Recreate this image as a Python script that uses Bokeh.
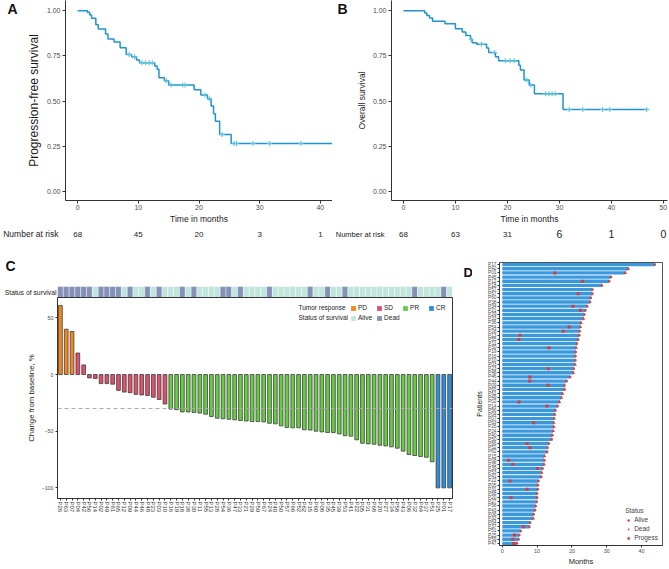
import numpy as np
from bokeh.plotting import figure
from bokeh.models import (Range1d, FactorRange, ColumnDataSource, Label, LinearAxis,
                          Legend, LegendItem, FixedTicker, NumeralTickFormatter, Span)
from bokeh.core.properties import value
from bokeh.layouts import row, column
from bokeh.embed import file_html
from bokeh.resources import INLINE

FONT = "Liberation Sans"

# ---------------- Panel A: progression-free survival ----------------
pfs_times = [1.6, 2.0, 2.3, 3.0, 3.4, 4.6, 5.0, 6.0, 7.0, 8.0, 8.9, 9.7, 10.2, 12.7,
             13.1, 13.4, 14.3, 15.0, 19.2, 20.3, 21.4, 22.0, 22.4, 22.7, 23.4, 25.3]
pfs_surv = [0.991, 0.976, 0.958, 0.922, 0.898, 0.871, 0.844, 0.827, 0.795, 0.758, 0.745,
            0.727, 0.713, 0.695, 0.676, 0.629, 0.613, 0.589, 0.564, 0.535, 0.513, 0.473,
            0.431, 0.389, 0.316, 0.267]
pfs_last_followup = 42.0
pfs_censored = [8.5, 9.4, 10.6, 11.2, 11.8, 12.3, 14.6, 15.4, 17.3, 17.7, 21.0, 21.7,
                23.8, 25.8, 26.2, 28.9, 31.6, 36.8]
pfs_risk_times = [0, 10, 20, 30, 40]
pfs_risk_counts = [68, 45, 20, 3, 1]

# ---------------- Panel B: overall survival ----------------
os_times = [4.1, 4.5, 5.0, 5.6, 8.0, 10.0, 11.3, 12.0, 12.9, 13.2, 14.1, 16.0, 16.4,
            17.7, 18.3, 22.2, 22.5, 23.2, 24.2, 25.2, 30.7]
os_surv = [0.987, 0.973, 0.960, 0.942, 0.927, 0.900, 0.882, 0.863, 0.842, 0.823, 0.814,
           0.794, 0.769, 0.745, 0.723, 0.699, 0.672, 0.617, 0.590, 0.541, 0.454]
os_last_followup = 46.8
os_censored = [13.0, 15.0, 17.5, 19.6, 20.5, 21.3, 23.7, 24.5, 27.3, 28.0, 28.6, 29.2,
               31.9, 34.5, 38.3, 39.7, 46.8]
os_risk_times = [0, 10, 20, 30, 40, 50]
os_risk_counts = [68, 63, 31, 6, 1, 0]

# ---------------- Panel C: waterfall ----------------
c_patients = ["P26", "P63", "P07", "P04", "P42", "P56", "P14", "P02", "P49", "P61", "P65",
              "P12", "P09", "P44", "P46", "P48", "P23", "P03", "P10", "P16", "P19", "P18",
              "P38", "P30", "P11", "P55", "P13", "P28", "P54", "P36", "P47", "P33", "P21",
              "P29", "P59", "P67", "P24", "P40", "P50", "P57", "P66", "P52", "P62", "P15",
              "P60", "P08", "P35", "P45", "P39", "P53", "P41", "P22", "P05", "P31", "P68",
              "P20", "P27", "P34", "P58", "P43", "P06", "P32", "P64", "P37", "P51", "P25",
              "P01", "P17"]
c_change = [61, 40, 38,
            19, 8.5, -3, -3.5, -8, -8, -8.5, -14, -15.5, -16, -17.5, -18, -18.5, -20, -22, -26,
            -30.5, -31, -33, -33, -33.5, -34, -35, -37, -38.5, -39, -39.5, -40, -40.6, -41,
            -41.5, -41.5, -41.8, -43, -43.5, -45.3, -46.8, -47, -47, -48.8, -49, -50, -50.6,
            -51.2, -51.2, -52.4, -54, -54.4, -57.6, -60.6, -61.2, -61.5, -62.4, -63, -63.8,
            -65, -67.6, -70.6, -71.5, -72.4, -73, -77,
            -100, -100, -100]
c_response = ["PD"] * 3 + ["SD"] * 16 + ["PR"] * 46 + ["CR"] * 3
c_status = ["Dead", "Dead", "Dead", "Dead", "Dead", "Dead", "Alive", "Dead", "Dead", "Dead",
            "Dead", "Alive", "Dead", "Alive", "Alive", "Dead", "Alive", "Dead", "Alive", "Alive",
            "Alive", "Dead", "Alive", "Dead", "Alive", "Alive", "Alive", "Alive", "Dead", "Dead",
            "Alive", "Dead", "Alive", "Alive", "Alive", "Alive", "Dead", "Alive", "Alive", "Alive",
            "Alive", "Alive", "Alive", "Dead", "Alive", "Alive", "Dead", "Alive", "Alive", "Dead",
            "Alive", "Alive", "Alive", "Alive", "Alive", "Alive", "Alive", "Alive", "Alive", "Alive",
            "Alive", "Dead", "Alive", "Alive", "Alive", "Alive", "Dead", "Alive"]
response_levels = ["PD", "SD", "PR", "CR"]
response_colors = ["#f7861c", "#e0506c", "#66cc44", "#2b8fdc"]
status_levels = ["Alive", "Dead"]
status_colors = ["#bfe5dc", "#8591b8"]
response_threshold = -30

# ---------------- Panel D: swimmer plot ----------------
d_patients = ["P17", "P42", "P01", "P45", "P12", "P18", "P57", "P67", "P60", "P38", "P34",
              "P21", "P29", "P33", "P36", "P54", "P28", "P13", "P55", "P11", "P30", "P19",
              "P16", "P10", "P03", "P23", "P48", "P46", "P44", "P09", "P65", "P61", "P49",
              "P02", "P14", "P56", "P04", "P07", "P63", "P26", "P24", "P40", "P50", "P66",
              "P52", "P62", "P15", "P08", "P35", "P39", "P53", "P41", "P22", "P05", "P31",
              "P68", "P20", "P27", "P58", "P43", "P06", "P32", "P64", "P37", "P51", "P25",
              "P59", "P47"]
d_months = [43.8, 36.2, 35.3, 31.2, 30.7, 28.6, 25.9, 25.9, 25.4, 25.2, 24.4, 23.9, 23.6,
            23.3, 22.6, 22.4, 22.2, 22.1, 21.8, 21.4, 21.2, 21.1, 21.0, 21.0, 20.9, 20.5,
            20.4, 19.5, 18.5, 17.9, 17.9, 17.3, 17.0, 16.4, 15.9, 15.3, 15.1, 14.9, 14.8,
            14.8, 14.6, 14.4, 14.2, 13.4, 13.0, 12.9, 12.1, 12.1, 12.0, 11.6, 11.3, 11.2,
            10.4, 10.2, 10.2, 10.0, 10.0, 9.9, 9.6, 9.4, 9.0, 8.9, 8.0, 7.8, 5.3, 4.9, 4.7, 4.2]
d_progress = [None, None, 15.1, None, 23.0, None, None, 21.8, None, None, 20.3, 22.4, None,
              None, None, 19.2, 17.5, 5.1, 4.7, None, 13.4, None, None, None, None, 13.2,
              None, 7.9, 7.9, 13.2, None, None, None, 4.8, 12.8, None, None, None, 9.0,
              None, None, None, None, 7.1, 7.9, None, None, 1.8, 3.0, 10.1, None, None,
              2.2, None, 7.1, None, 2.5, None, None, None, None, None, None, 6.1, None,
              3.5, 3.0, 3.3]

# ---------------- styling helpers ----------------
KM_LINE = "#1e95cf"
KM_CENS = "#5ec4de"
MARK_RED = "#e0403c"
Y0, Y1 = -0.048, 1.056


def style_axes(p, tick_fs, label_fs, tick_out=3, label_standoff=4):
    p.xgrid.visible = False
    p.ygrid.visible = False
    for ax in p.axis:
        ax.axis_line_color = "#333333"
        ax.major_tick_line_color = "#333333"
        ax.minor_tick_line_color = None
        ax.major_tick_out = tick_out
        ax.major_tick_in = 0
        ax.major_label_standoff = 2
        ax.axis_label_standoff = label_standoff
        ax.major_label_text_font = FONT
        ax.major_label_text_font_size = tick_fs
        ax.major_label_text_color = "#4d4d4d"
        ax.axis_label_text_font = FONT
        ax.axis_label_text_font_size = label_fs
        ax.axis_label_text_font_style = "normal"
        ax.axis_label_text_color = "#1a1a1a"


def label_axis(ax, size, bold=False, color="#1a1a1a", standoff=1):
    ax.axis_line_color = None
    ax.major_tick_line_color = None
    ax.minor_tick_line_color = None
    ax.major_label_standoff = standoff
    ax.major_label_text_font = FONT
    ax.major_label_text_font_size = size
    ax.major_label_text_font_style = "bold" if bold else "normal"
    ax.major_label_text_color = color


def tag_axis(p, txt, level, rng, size="14px"):
    # panel letter drawn as the only tick label of an extra, invisible left axis
    p.extra_y_ranges = {"tag": Range1d(*rng)}
    ax = LinearAxis(y_range_name="tag", ticker=FixedTicker(ticks=[level]),
                    major_label_overrides={level: txt})
    label_axis(ax, size, bold=True, color="#111111", standoff=0)
    p.add_layout(ax, "left")


def blank(p):
    p.outline_line_color = None
    p.xgrid.visible = False
    p.ygrid.visible = False


def km_panel(width, xr, ml, mr, times, surv, end, cens, ylabel, ylabel_fs, xticks, tag):
    p = figure(width=width, height=226, x_range=Range1d(*xr), y_range=Range1d(Y0, Y1),
               output_backend="svg", toolbar_location=None,
               min_border_left=ml, min_border_right=mr, min_border_top=0, min_border_bottom=23)
    p.outline_line_color = None
    xs = [0.0] + list(times) + [end]
    ys = [1.0] + list(surv) + [surv[-1]]
    p.step(xs, ys, mode="after", line_color=KM_LINE, line_width=1.5)
    idx = np.searchsorted(np.array(times), cens, side="right")
    cy = [1.0 if i == 0 else surv[i - 1] for i in idx]
    p.scatter(cens, cy, marker="cross", size=5, line_color=KM_CENS, line_width=1.1)
    p.yaxis.ticker = FixedTicker(ticks=[0, 0.25, 0.5, 0.75, 1.0])
    p.yaxis.formatter = NumeralTickFormatter(format="0.00")
    p.xaxis.ticker = FixedTicker(ticks=xticks)
    p.yaxis.axis_label = ylabel
    p.xaxis.axis_label = "Time in months"
    style_axes(p, "7px", ylabel_fs, tick_out=3, label_standoff=3)
    p.xaxis.major_label_standoff = 1
    p.xaxis.axis_label_standoff = 1
    p.xaxis.axis_label_text_font_size = "8.5px"
    tag_axis(p, tag, 956, (0, 1000))
    return p


def risk_panel(main, width, ml, mr, big_from, risk_t, risk_n, label_fs):
    p = figure(width=width, height=15, x_range=main.x_range,
               y_range=FactorRange("Number at risk"), output_backend="svg",
               toolbar_location=None, min_border_left=ml, min_border_right=mr,
               min_border_top=0, min_border_bottom=0, x_axis_location=None)
    blank(p)
    label_axis(p.yaxis[0], label_fs, standoff=1)
    row_y = ["Number at risk"] * len(risk_t)
    labels = [str(v) for v in risk_n]
    p.text(x=risk_t[:big_from], y=row_y[:big_from], text=labels[:big_from],
           text_font=value(FONT), text_font_size="8px", text_align="center",
           text_baseline="middle", text_color="#1a1a1a")
    if big_from < len(risk_t):
        p.text(x=risk_t[big_from:], y=row_y[big_from:], text=labels[big_from:],
               text_font=value(FONT), text_font_size="10.5px", text_align="center",
               text_baseline="middle", text_color="#1a1a1a")
    return p


# top row geometry (page pixels): A frame 61..332, B frame 382..667
pA = km_panel(332, (-2, 42), 61, 0, pfs_times, pfs_surv, pfs_last_followup, pfs_censored,
              "Progression-free survival", "12px", [0, 10, 20, 30, 40], "A")
pB = km_panel(336, (-2.3, 50.8), 50, 1, os_times, os_surv, os_last_followup, os_censored,
              "Overall survival", "8.5px", [0, 10, 20, 30, 40, 50], "B")
pAr = risk_panel(pA, 332, 61, 0, 5, pfs_risk_times, pfs_risk_counts, "8.5px")
pBr = risk_panel(pB, 336, 50, 1, 3, os_risk_times, os_risk_counts, "7.5px")

# ---------------- Panel C ----------------
c_xr = FactorRange(*c_patients, range_padding=0)
s_color_map = dict(zip(status_levels, status_colors))

# text canvas left of the strip: page x 0..57, y 241..297, units are pixels (y downward)
pCt = figure(width=57, height=56, x_range=Range1d(0, 57), y_range=Range1d(56, 0),
             output_backend="svg", toolbar_location=None, min_border_left=0,
             min_border_right=0, min_border_top=0, min_border_bottom=0,
             x_axis_location=None, y_axis_location=None)
blank(pCt)
pCt.text(x=[5], y=[16], text=["C"], text_font=value(FONT), text_font_size="14px",
         text_font_style="bold", text_align="left", text_baseline="top", text_color="#111111")
pCt.text(x=[56], y=[50.5], text=["Status of survival"], text_font=value(FONT),
         text_font_size="6.8px", text_align="right", text_baseline="middle",
         text_color="#1a1a1a")

# status strip: frame spans page y 241..297 (2 units per pixel, 0 at the bottom);
# the strip itself fills the lowest 11 pixels
pS = figure(width=405, height=56, x_range=c_xr, y_range=Range1d(0, 112),
            output_backend="svg", toolbar_location=None, x_axis_location=None,
            y_axis_location=None, min_border_left=0, min_border_right=10,
            min_border_top=0, min_border_bottom=0)
blank(pS)
s_src = ColumnDataSource(dict(id=c_patients, color=[s_color_map[s] for s in c_status]))
pS.rect(x="id", y=11, width=1, height=22, fill_color="color", line_color="#ffffff",
        line_width=0.6, line_alpha=0.7, source=s_src)

C_L, C_R, C_T, C_B = 57, 452, 297, 498
C_YR = (-109.4, 68)
pC = figure(width=462, height=271, x_range=c_xr, y_range=Range1d(*C_YR),
            output_backend="svg", toolbar_location=None, min_border_left=57,
            min_border_right=10, min_border_top=0, min_border_bottom=70)
pC.outline_line_color = "#333333"
proxies = {}
for lev, col in zip(response_levels, response_colors):
    ids = [i for i, r in zip(c_patients, c_response) if r == lev]
    vals = [v for v, r in zip(c_change, c_response) if r == lev]
    src = ColumnDataSource(dict(id=ids, chg=vals))
    pC.vbar(x="id", top="chg", bottom=0, width=0.64, fill_color=col, line_color="#3c3c3c",
            line_width=0.8, source=src)
    proxies[lev] = pC.vbar(x=ids, top=0, width=0.6, fill_color=col, line_color=None,
                           visible=False)
for lev, col in zip(status_levels, status_colors):
    ids = [i for i, s in zip(c_patients, c_status) if s == lev]
    proxies[lev] = pC.vbar(x=ids, top=0, width=0.6, fill_color=col, line_color=None,
                           visible=False)
pC.add_layout(Span(location=response_threshold, dimension="width", line_color="#aaaaaa",
                   line_dash="4 3", line_width=1))
pC.yaxis.ticker = FixedTicker(ticks=[-100, -50, 0, 50])
pC.yaxis.axis_label = "Change from baseline, %"
style_axes(pC, "5.3px", "7.8px", tick_out=2, label_standoff=3)
pC.xaxis.major_label_orientation = "vertical"
pC.xaxis.major_label_text_font_size = "6px"
pC.xaxis.major_label_text_color = "#333333"
pC.xaxis.major_label_standoff = 1


def mini_legend(items, loc, spacing):
    lg = Legend(items=items, orientation="horizontal", location=loc, glyph_width=6,
                glyph_height=6, label_height=6, label_width=0, label_standoff=2,
                spacing=spacing, padding=0, margin=0, border_line_color=None,
                background_fill_alpha=0, label_text_font=FONT, label_text_font_size="6.5px",
                label_text_color="#1a1a1a")
    pC.add_layout(lg)


mini_legend([LegendItem(label=l, renderers=[proxies[l]]) for l in response_levels],
            (350 - C_L, C_B - 311), 9)
mini_legend([LegendItem(label=l, renderers=[proxies[l]]) for l in status_levels],
            (350 - C_L, C_B - 321), 4)
for txt, py in [("Tumor response", 307), ("Status of survival", 317)]:
    pC.add_layout(Label(x=(298 - C_L) * len(c_patients) / (C_R - C_L),
                        y=C_YR[1] - (py - C_T) * (C_YR[1] - C_YR[0]) / (C_B - C_T),
                        text=txt, text_font=FONT, text_font_size="6.5px", text_align="left",
                        text_baseline="middle", text_color="#1a1a1a"))

# ---------------- Panel D ----------------
D_XR = (-0.8, 46)
d_yr = FactorRange(*reversed(d_patients), range_padding=0)
pD = figure(width=196, height=327, x_range=Range1d(*D_XR), y_range=d_yr,
            output_backend="svg", toolbar_location=None, min_border_left=19,
            min_border_right=6, min_border_top=21, min_border_bottom=18)
pD.outline_line_color = "#555555"
status_of = dict(zip(c_patients, c_status))
d_src = ColumnDataSource(dict(id=d_patients, m=d_months))
pD.hbar(y="id", left=0, right="m", height=0.8, fill_color="#3a98dc", line_color=None,
        source=d_src)
alive_ids = [i for i in d_patients if status_of[i] == "Alive"]
alive_m = [m for i, m in zip(d_patients, d_months) if status_of[i] == "Alive"]
dead_ids = [i for i in d_patients if status_of[i] == "Dead"]
dead_m = [m for i, m in zip(d_patients, d_months) if status_of[i] == "Dead"]
prog_ids = [i for i, v in zip(d_patients, d_progress) if v is not None]
prog_m = [v for v in d_progress if v is not None]
r_alive = pD.scatter(alive_m, alive_ids, marker="circle", size=2.6, fill_color=MARK_RED,
                     line_color=None)
r_dead = pD.scatter(dead_m, dead_ids, marker="triangle", size=3.6, fill_color=MARK_RED,
                    line_color=None)
r_prog = pD.scatter(prog_m, prog_ids, marker="square", size=3.0, fill_color="#d83a3a",
                    line_color=None)
pD.xaxis.ticker = FixedTicker(ticks=[0, 10, 20, 30, 40])
pD.xaxis.axis_label = "Months"
pD.yaxis.axis_label = "Patients"
style_axes(pD, "5.5px", "7.5px", tick_out=2, label_standoff=1)
pD.yaxis.major_label_text_font_size = "4.8px"
pD.yaxis.major_label_standoff = 1
pD.yaxis.axis_label_standoff = 2
pD.yaxis.axis_label_text_font_size = "7px"
pD.xaxis.major_label_standoff = 1
pD.add_layout(Legend(items=[LegendItem(label="Alive", renderers=[r_alive]),
                            LegendItem(label="Dead", renderers=[r_dead]),
                            LegendItem(label="Progess", renderers=[r_prog])],
                     location="bottom_right", title="Status", title_text_font=FONT,
                     title_text_font_size="6.5px", title_text_font_style="normal",
                     title_standoff=2, glyph_width=6, glyph_height=6, label_height=6,
                     label_width=0, label_standoff=3, spacing=2, padding=3, margin=4,
                     border_line_color=None, background_fill_color="#ffffff",
                     label_text_font=FONT, label_text_font_size="6.5px"))

# narrow canvas left of panel D carrying its letter; shares D's patient axis
pDt = figure(width=10, height=327, x_range=Range1d(0, 10), y_range=d_yr,
             output_backend="svg", toolbar_location=None, min_border_left=0,
             min_border_right=0, min_border_top=21, min_border_bottom=18,
             x_axis_location=None, y_axis_location=None)
blank(pDt)
pDt.text(x=[1], y=[d_patients[0]], text=["D"], text_font=value(FONT), text_font_size="13px",
         text_font_style="bold", text_align="left", text_baseline="top", text_color="#111111")

layout = column(row(column(pA, pAr), column(pB, pBr)),
                row(column(row(pCt, pS), pC), pDt, pD))
open("out.html", "w").write(file_html(layout, INLINE))
